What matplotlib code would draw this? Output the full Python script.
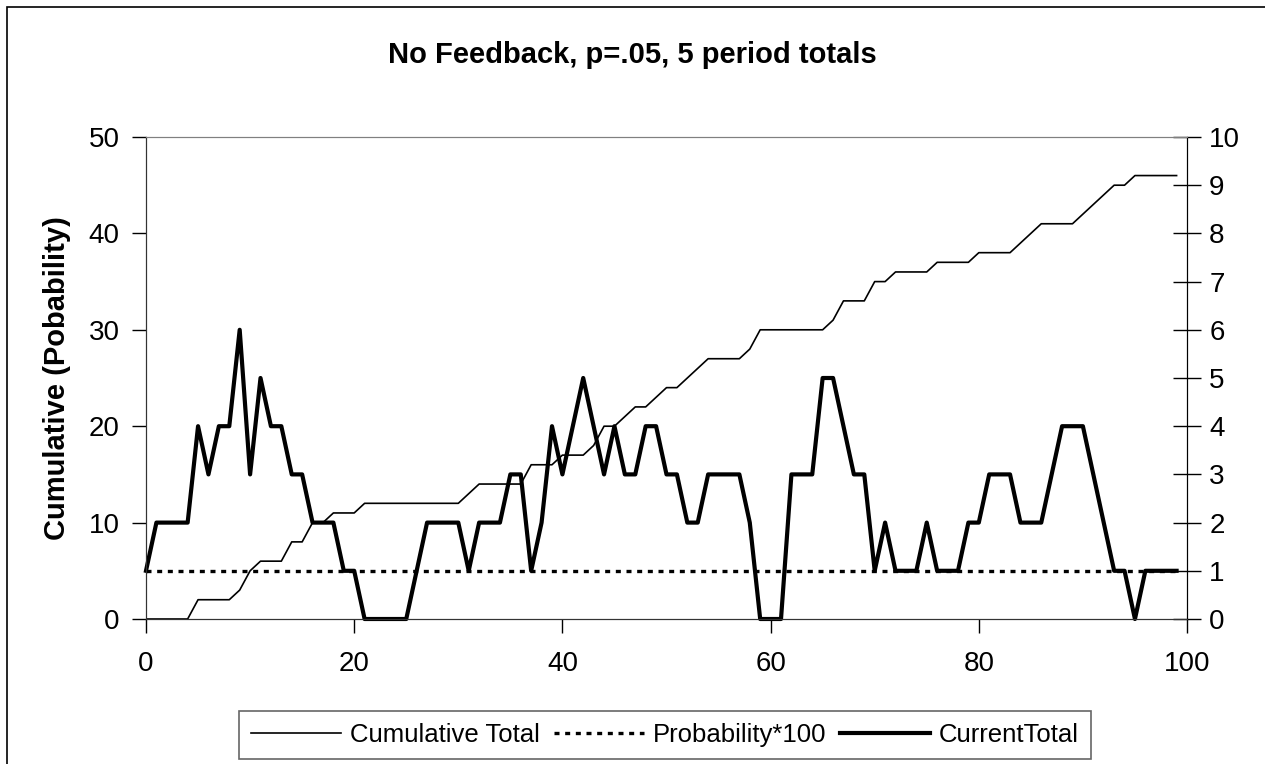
import matplotlib
matplotlib.use('Agg')
import matplotlib.pyplot as plt
from matplotlib.patches import Rectangle
import numpy as np

plt.rcParams['font.family'] = ['Liberation Sans', 'DejaVu Sans']

# period index 0..99
periods = np.arange(100)

# cumulative total (left axis)
cumulative = [0, 0, 0, 0, 0, 2, 2, 2, 2, 3,
              5, 6, 6, 6, 8, 8, 10, 10, 11, 11,
              11, 12, 12, 12, 12, 12, 12, 12, 12, 12,
              12, 13, 14, 14, 14, 14, 14, 16, 16, 16,
              17, 17, 17, 18, 20, 20, 21, 22, 22, 23,
              24, 24, 25, 26, 27, 27, 27, 27, 28, 30,
              30, 30, 30, 30, 30, 30, 31, 33, 33, 33,
              35, 35, 36, 36, 36, 36, 37, 37, 37, 37,
              38, 38, 38, 38, 39, 40, 41, 41, 41, 41,
              42, 43, 44, 45, 45, 46, 46, 46, 46, 46]

# probability * 100 (left axis)
prob = [5] * 100

# current 5 period total (right axis)
current = [1, 2, 2, 2, 2, 4, 3, 4, 4, 6,
           3, 5, 4, 4, 3, 3, 2, 2, 2, 1,
           1, 0, 0, 0, 0, 0, 1, 2, 2, 2,
           2, 1, 2, 2, 2, 3, 3, 1, 2, 4,
           3, 4, 5, 4, 3, 4, 3, 3, 4, 4,
           3, 3, 2, 2, 3, 3, 3, 3, 2, 0,
           0, 0, 3, 3, 3, 5, 5, 4, 3, 3,
           1, 2, 1, 1, 1, 2, 1, 1, 1, 2,
           2, 3, 3, 3, 2, 2, 2, 3, 4, 4,
           4, 3, 2, 1, 1, 0, 1, 1, 1, 1]

fig = plt.figure(figsize=(12.65, 7.64), dpi=100)
ax = fig.add_axes([146 / 1265, 145 / 764, 1041 / 1265, 482 / 764])
ax2 = ax.twinx()

line1, = ax.plot(periods, cumulative, color='black', lw=1.2, label='Cumulative Total')
line2, = ax.plot(periods, prob, color='black', lw=2.4, ls=(0, (1.5, 1.7)),
                 label='Probability*100')
line3, = ax2.plot(periods, current, color='black', lw=3, solid_joinstyle='round',
                  label='CurrentTotal', clip_on=False)

ax.set_xlim(0, 100)
ax.set_ylim(0, 50)
ax2.set_ylim(0, 10)
ax.set_xticks(range(0, 101, 20))
ax.set_yticks(range(0, 51, 10))
ax2.set_yticks(range(0, 11, 1))

ax.tick_params(axis='both', labelsize=20, length=10, width=1, direction='out', pad=9)
ax.tick_params(axis='x', pad=13)
ax2.tick_params(axis='y', labelsize=20, length=20, width=1, direction='inout', pad=6)

for a in (ax, ax2):
    a.spines['top'].set_color('#808080')
    a.spines['left'].set_color('#333333')
    a.spines['bottom'].set_color('#333333')
    a.spines['right'].set_color('black')

ax.set_ylabel('Cumulative (Pobability)', fontsize=21, fontweight='bold', labelpad=13)
fig.text(0.5, 1 - 55 / 764, 'No Feedback, p=.05, 5 period totals',
         ha='center', va='center', fontsize=21, fontweight='bold')

leg = fig.legend(handles=[line1, line2, line3], loc='center', ncol=3,
                 bbox_to_anchor=(665 / 1265, 1 - 735 / 764),
                 prop={'size': 18.5},
                 frameon=True, fancybox=False, edgecolor='#404040',
                 handlelength=3.5, handletextpad=0.35, columnspacing=0.55,
                 borderpad=0.45, borderaxespad=0)
leg.get_frame().set_linewidth(1.2)

# outer chart border
fig.patches.append(Rectangle((7 / 1265, -0.5), 2, 0.5 + 1 - 7 / 764,
                             transform=fig.transFigure, fill=False,
                             edgecolor='black', lw=1.2))

fig.savefig('out.png', dpi=100)
